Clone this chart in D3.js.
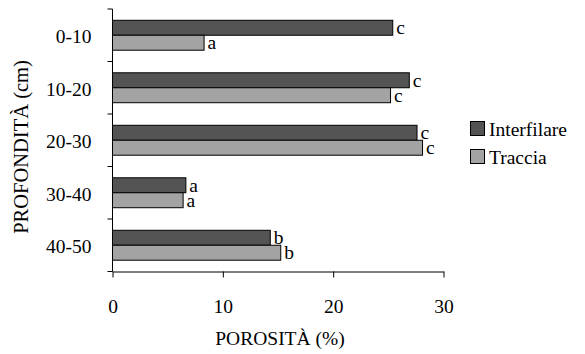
<!DOCTYPE html>
<html><head><meta charset="utf-8">
<script src="https://cdn.jsdelivr.net/npm/d3@7"></script>
<style>body{margin:0;background:#fff}svg{display:block}svg text{font-family:"Liberation Serif",Tinos,"Times New Roman",Times,"DejaVu Serif",serif;fill:#000}</style>
</head><body><svg id="c" width="585" height="354"></svg>
<script>
const categories = ["0-10","10-20","20-30","30-40","40-50"];
const seriesNames = ["Interfilare","Traccia"];
const interfilare = [25.4, 26.9, 27.6, 6.65, 14.3];
const traccia = [8.3, 25.2, 28.1, 6.4, 15.25];
const letInterfilare = ["c","c","c","a","b"];
const letTraccia = ["a","c","c","a","b"];
const xTicks = [0,10,20,30];
const colors = ["#545454","#a3a3a3"];
const FF = '"Liberation Serif",Tinos,"Times New Roman",Times,"DejaVu Serif",serif';
const FS = 19.5;

const svg = d3.select("#c");
const x = d3.scaleLinear().domain([0,30]).range([112.5,443.5]);
const y = d3.scaleBand().domain(categories).range([9,271.5]).paddingInner(0.43).paddingOuter(0.215);
const yInner = d3.scaleBand().domain(seriesNames).range([0,y.bandwidth()]);
const yOuter = d3.scaleBand().domain(categories).range([9,271.5]);

// y axis
const gy = svg.append("g").attr("transform","translate(112.5,0)");
gy.append("line").attr("x1",0).attr("x2",0).attr("y1",9).attr("y2",271.5).attr("stroke","#000");
const yTickPos = categories.map(c=>yOuter(c)).concat([271.5]);
gy.selectAll("line.t").data(yTickPos).join("line").attr("class","t")
  .attr("x1",-5).attr("x2",0).attr("y1",d=>d).attr("y2",d=>d).attr("stroke","#000");
gy.selectAll("text").data(categories).join("text")
  .attr("x",-21).attr("y",d=>yOuter(d)+yOuter.bandwidth()/2+8)
  .attr("text-anchor","end").attr("font-size",FS).style("font-family",FF).text(d=>d);

// x axis
const gx = svg.append("g").attr("transform","translate(0,271.5)");
const xAxis = d3.axisBottom(x).tickValues(xTicks).tickSize(6).tickSizeOuter(0).tickPadding(22);
gx.call(xAxis);
gx.select(".domain").attr("stroke","#000");
gx.selectAll(".tick line").attr("stroke","#000");
gx.selectAll(".tick text").attr("font-size",FS).style("font-family",FF).attr("fill","#000");

// bars
const data = [];
categories.forEach((c,i)=>{
  data.push({c, s:seriesNames[0], v:interfilare[i], l:letInterfilare[i], col:colors[0]});
  data.push({c, s:seriesNames[1], v:traccia[i], l:letTraccia[i], col:colors[1]});
});
svg.selectAll("rect.bar").data(data).join("rect").attr("class","bar")
  .attr("x",x(0)).attr("y",d=>y(d.c)+yInner(d.s))
  .attr("width",d=>x(d.v)-x(0)).attr("height",yInner.bandwidth())
  .attr("fill",d=>d.col).attr("stroke","#000").attr("stroke-width",1);
svg.selectAll("text.lbl").data(data).join("text").attr("class","lbl")
  .attr("x",d=>x(d.v)+3.5).attr("y",d=>y(d.c)+yInner(d.s)+yInner.bandwidth()/2+6.5)
  .attr("font-size",FS).style("font-family",FF).text(d=>d.l);

// titles
svg.append("text").attr("x",280).attr("y",345).attr("text-anchor","middle").attr("font-size",FS).style("font-family",FF).text("POROSITÀ (%)");
svg.append("text").attr("transform","translate(28,147) rotate(-90)").attr("text-anchor","middle").attr("font-size",20.5).style("font-family",FF).text("PROFONDITÀ (cm)");

// legend
const lg = svg.append("g").attr("transform","translate(470,121)");
seriesNames.forEach((s,i)=>{
  lg.append("rect").attr("x",0.5).attr("y",i*28+0.5).attr("width",14).attr("height",14).attr("fill",colors[i]).attr("stroke","#000");
  lg.append("text").attr("x",19).attr("y",i*28+14.5).attr("font-size",FS).style("font-family",FF).text(s);
});
</script></body></html>
